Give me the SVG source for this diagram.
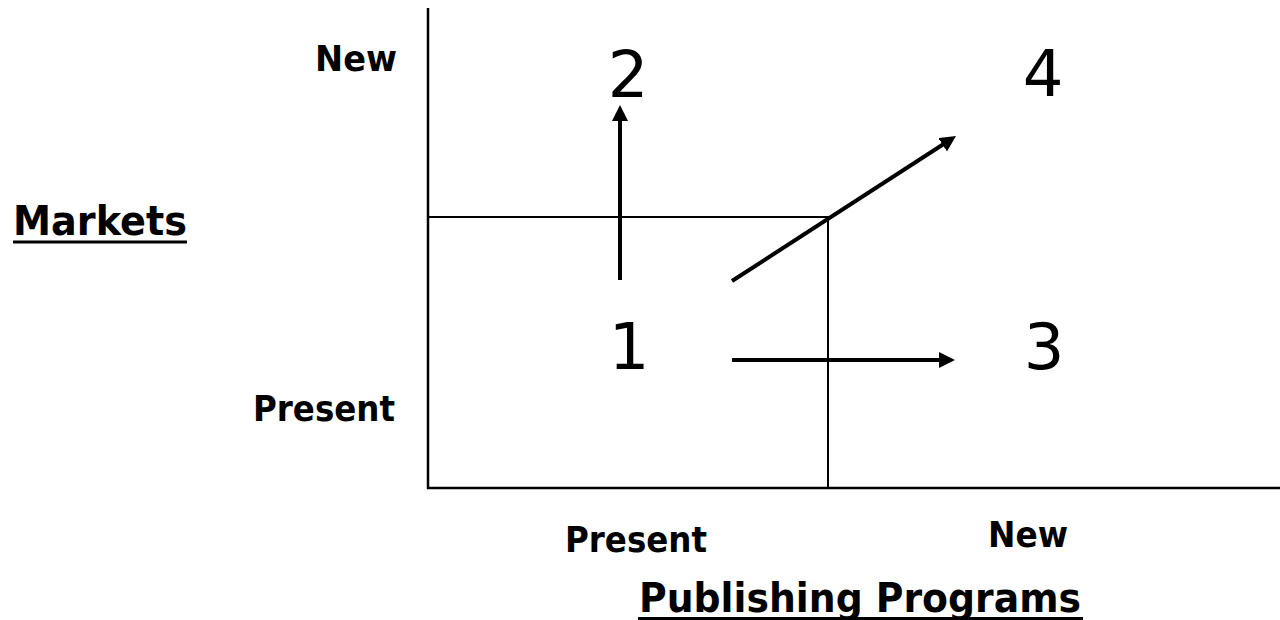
<svg xmlns="http://www.w3.org/2000/svg" width="1280" height="620" viewBox="0 0 1280 620">
  <style>
    .lbl { font-family: "DejaVu Sans", Verdana, sans-serif; font-weight: bold; fill: #000; }
    .num { font-family: "DejaVu Sans", Verdana, sans-serif; font-size: 64px; fill: #000; text-anchor: middle; }
    .axis { stroke: #000; stroke-width: 2.5; fill: none; }
    .box { stroke: #000; stroke-width: 2; fill: none; }
    .arrow { stroke: #000; stroke-width: 4; fill: none; marker-end: url(#head); }
    .ul { stroke: #000; stroke-width: 3; }
  </style>
  <defs>
    <marker id="head" markerUnits="userSpaceOnUse" markerWidth="17" markerHeight="17" refX="5" refY="8" orient="auto">
      <path d="M0,0 L16,8 L0,16 z" fill="#000"/>
    </marker>
  </defs>
  <rect width="1280" height="620" fill="#fff"/>

  <g id="axes">
    <line class="axis" x1="428" y1="8" x2="428" y2="489"/>
    <line class="axis" x1="427" y1="488" x2="1280" y2="488"/>
  </g>
  <g id="present-box">
    <polyline class="box" points="428,217 828,217 828,488"/>
  </g>

  <g id="connectors">
    <line class="arrow" x1="620" y1="280" x2="620" y2="116"/>
    <line class="arrow" x1="732" y1="360" x2="944" y2="360"/>
    <line class="arrow" x1="732" y1="281" x2="946.8" y2="142"/>
  </g>

  <g id="cell-1"><text class="num" x="629" y="369">1</text></g>
  <g id="cell-2"><text class="num" x="628" y="97">2</text></g>
  <g id="cell-3"><text class="num" x="1044" y="369">3</text></g>
  <g id="cell-4"><text class="num" x="1043" y="96">4</text></g>

  <g id="label-markets">
    <text class="lbl" x="13" y="235" font-size="40" textLength="174" lengthAdjust="spacingAndGlyphs">Markets</text>
    <line class="ul" x1="13" y1="242" x2="187" y2="242"/>
  </g>
  <g id="label-markets-new">
    <text class="lbl" x="315" y="71" font-size="36" textLength="82" lengthAdjust="spacingAndGlyphs">New</text>
  </g>
  <g id="label-markets-present">
    <text class="lbl" x="253" y="421" font-size="35" textLength="142" lengthAdjust="spacingAndGlyphs">Present</text>
  </g>
  <g id="label-programs-present">
    <text class="lbl" x="565" y="552" font-size="36" textLength="142" lengthAdjust="spacingAndGlyphs">Present</text>
  </g>
  <g id="label-programs-new">
    <text class="lbl" x="988" y="547" font-size="35" textLength="80" lengthAdjust="spacingAndGlyphs">New</text>
  </g>
  <g id="label-publishing">
    <text class="lbl" x="639" y="612" font-size="41" textLength="442" lengthAdjust="spacingAndGlyphs">Publishing Programs</text>
    <line class="ul" x1="638" y1="618.5" x2="1083" y2="618.5"/>
  </g>
</svg>
